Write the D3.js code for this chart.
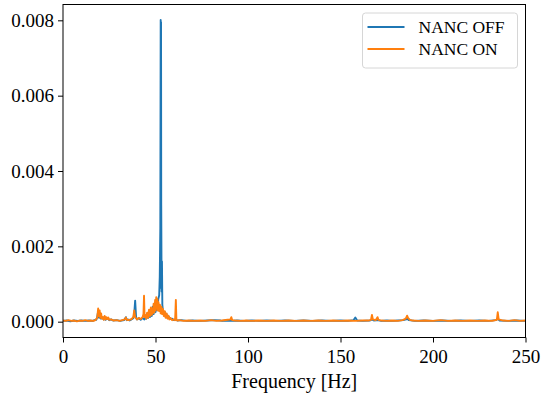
<!DOCTYPE html>
<html>
<head>
<meta charset="utf-8">
<script src="https://cdn.jsdelivr.net/npm/d3@7"></script>
<style>
  body { margin: 0; background: #fff; }
  svg text { font-family: 'Liberation Serif', 'DejaVu Serif', serif; fill: #000; }
</style>
</head>
<body>
<div id="chart"></div>
<script>
// spectrum (Hz / amplitude), rows of ten
const offFreq = [
  0, 2, 4, 6, 8, 10, 12, 14, 16, 17,
  18, 18.5, 19, 19.5, 20, 20.5, 21, 22, 22.5, 23,
  24, 25, 26, 27, 29, 31, 33, 34, 34.5, 35,
  36, 37, 38, 38.5, 39, 39.5, 40, 41, 42, 43,
  44, 44.5, 45, 45.5, 46, 46.5, 47, 47.5, 48, 48.5,
  49, 49.5, 50, 50.5, 51, 51.5, 52, 52.3, 52.6, 52.8,
  52.9, 53.0, 53.1, 53.3, 53.5, 53.7, 54, 54.5, 55, 55.5,
  56, 56.5, 57, 58, 59, 60, 61, 62, 64, 67,
  70, 74, 78, 82, 85, 86, 88, 91, 94, 98,
  102, 106, 110, 115, 120, 125, 130, 135, 140, 145,
  150, 154, 157, 158, 159, 162, 166, 167, 168, 170,
  172, 175, 178, 181, 184, 185.5, 186, 187, 190, 195,
  200, 205, 210, 215, 220, 225, 230, 234, 235, 236,
  240, 245, 250];
const offAmp = [
  0.00002, 0.00003, 0.00001, 0.00003, 0.00002, 0.00003, 0.00002, 0.00003, 0.00002, 0.00004,
  0.00005, 0.00012, 0.00028, 0.0001, 0.00022, 0.00008, 0.00012, 0.00006, 0.00013, 0.00005,
  0.0001, 0.00004, 0.00006, 0.00003, 0.00004, 0.00002, 0.00004, 0.00012, 0.00004, 0.00006,
  0.00003, 0.00006, 0.00009, 0.0002, 0.00056, 0.00012, 0.00006, 0.00009, 0.00005, 0.0001,
  0.00006, 0.00015, 0.00008, 0.00022, 0.0001, 0.00026, 0.00012, 0.00032, 0.00015, 0.0004,
  0.0002, 0.00048, 0.00025, 0.00055, 0.0003, 0.0006, 0.0007, 0.0012, 0.0025, 0.00801,
  0.0009, 0.00795, 0.0031, 0.0008, 0.0016, 0.00045, 0.0003, 0.00022, 0.00026, 0.00012,
  0.0002, 0.0001, 0.00014, 0.00007, 0.00008, 0.00004, 0.00005, 0.00003, 0.00004, 0.00002,
  0.00003, 0.00002, 0.00003, 0.00004, 0.00003, 0.00002, 0.00003, 0.00002, 0.00003, 0.00002,
  0.00003, 0.00002, 0.00003, 0.00002, 0.00003, 0.00002, 0.00003, 0.00002, 0.00003, 0.00002,
  0.00003, 0.00002, 0.00004, 0.00011, 0.00003, 0.00002, 0.00003, 0.00006, 0.00003, 0.00004,
  0.00002, 0.00003, 0.00002, 0.00003, 0.00004, 0.00006, 0.00008, 0.00004, 0.00002, 0.00003,
  0.00002, 0.00003, 0.00002, 0.00003, 0.00002, 0.00003, 0.00002, 0.00004, 0.00008, 0.00003,
  0.00002, 0.00003, 0.00002];

const onFreq = [
  0, 1.5, 3, 4.5, 6, 7.5, 9, 10.5, 12, 13.5,
  15, 16.5, 17.5, 18.5, 19, 19.4, 19.8, 20.2, 20.6, 21,
  21.5, 22, 22.5, 23, 23.5, 24, 24.5, 25, 26, 27.5,
  29, 30.5, 32, 33.5, 34, 34.5, 35.5, 37, 38, 38.5,
  39, 40, 41, 42, 43, 43.5, 43.8, 44.1, 44.5, 45,
  45.5, 46, 46.5, 47, 47.5, 48, 48.3, 48.6, 49, 49.4,
  49.8, 50.1, 50.4, 50.7, 51, 51.3, 51.6, 52, 52.4, 52.8,
  53.2, 53.6, 54, 54.5, 55, 55.5, 56, 56.5, 57, 57.5,
  58, 59, 60, 60.6, 61, 61.3, 62, 63, 65, 68,
  71, 74, 77, 80, 83, 86, 89, 90.5, 91, 91.5,
  93, 96, 99, 102, 106, 110, 114, 118, 122, 126,
  130, 134, 138, 142, 146, 150, 154, 158, 162, 165,
  166.5, 167, 167.5, 169, 170, 170.5, 172, 175, 178, 181,
  183.5, 184.5, 185.5, 186, 186.5, 187.5, 189, 192, 196, 200,
  204, 208, 212, 216, 220, 224, 228, 232, 234.5, 235,
  235.5, 238, 241, 244, 247, 250];
const onAmp = [
  0.00003, 0.00002, 0.00004, 0.00002, 0.00003, 0.00001, 0.00003, 0.00002, 0.00004, 0.00002,
  0.00003, 0.00002, 0.00004, 0.0001, 0.00035, 0.00015, 0.0003, 0.0001, 0.00022, 0.00008,
  0.00012, 0.00005, 0.00015, 0.00006, 0.00012, 0.00007, 0.00011, 0.00005, 0.00006, 0.00003,
  0.00004, 0.00002, 0.00004, 0.00006, 0.00011, 0.00005, 0.00004, 0.00007, 0.00012, 0.0003,
  0.00012, 0.00006, 0.0001, 0.00007, 0.00012, 0.0002, 0.00069, 0.00012, 0.00018, 0.00008,
  0.00024, 0.0001, 0.00032, 0.00015, 0.00038, 0.00018, 0.00035, 0.00022, 0.00048, 0.00025,
  0.00058, 0.0003, 0.00065, 0.00035, 0.0006, 0.0003, 0.00052, 0.00028, 0.00045, 0.00022,
  0.0004, 0.0002, 0.00034, 0.00015, 0.00028, 0.0001, 0.00022, 0.00008, 0.00016, 0.00006,
  0.0001, 0.00004, 0.00006, 0.00004, 0.00058, 0.00004, 0.00003, 0.00004, 0.00002, 0.00003,
  0.00002, 0.00003, 0.00002, 0.00004, 0.00002, 0.00003, 0.00005, 0.00006, 0.00012, 0.00004,
  0.00003, 0.00002, 0.00003, 0.00002, 0.00003, 0.00002, 0.00003, 0.00002, 0.00003, 0.00002,
  0.00003, 0.00002, 0.00003, 0.00002, 0.00003, 0.00002, 0.00003, 0.00002, 0.00003, 0.00003,
  0.00005, 0.00018, 0.00006, 0.00004, 0.00012, 0.00005, 0.00003, 0.00002, 0.00003, 0.00002,
  0.00004, 0.00006, 0.0001, 0.00016, 0.0001, 0.00005, 0.00003, 0.00002, 0.00003, 0.00002,
  0.00004, 0.00002, 0.00003, 0.00002, 0.00003, 0.00002, 0.00003, 0.00002, 0.00005, 0.00025,
  0.00006, 0.00003, 0.00002, 0.00004, 0.00002, 0.00003];

const seriesNames = ['NANC OFF', 'NANC ON'];
const xTicks = [0, 50, 100, 150, 200, 250];
const yTicks = [0, 0.002, 0.004, 0.006, 0.008];

const colors = ['#1f77b4', '#ff7f0e'];
const margin = {top: 4.5, right: 15.5, bottom: 56.5, left: 63},
  width = 541 - margin.left - margin.right,
  height = 394 - margin.top - margin.bottom;

const x = d3.scaleLinear().domain([0, 250]).range([0, width]);
const y = d3.scaleLinear().domain([-0.00042, 0.00842]).range([height, 0]);

const svg = d3.select('#chart').append('svg')
  .attr('width', 541)
  .attr('height', 394)
  .append('g')
  .attr('transform', `translate(${margin.left},${margin.top})`);

svg.append('defs').append('clipPath').attr('id', 'clip')
  .append('rect').attr('width', width).attr('height', height);

const line = d3.line()
  .x(d => x(d[0]))
  .y(d => y(d[1]));

const series = [
  offFreq.map((f, i) => [f, offAmp[i]]),
  onFreq.map((f, i) => [f, onAmp[i]])
];

series.forEach((s, i) => {
  svg.append('path')
    .datum(s)
    .attr('clip-path', 'url(#clip)')
    .attr('fill', 'none')
    .attr('stroke', colors[i])
    .attr('stroke-width', 1.9)
    .attr('stroke-linejoin', 'round')
    .attr('d', line);
});

// axes
const xAxis = d3.axisBottom(x).tickValues(xTicks).tickFormat(d3.format('d')).tickSizeOuter(0).tickSize(5).tickPadding(4);
const yAxis = d3.axisLeft(y).tickValues(yTicks).tickFormat(d3.format('.3f')).tickSizeOuter(0).tickSize(5).tickPadding(4);

const gx = svg.append('g')
  .attr('transform', `translate(0,${height})`)
  .call(xAxis);
const gy = svg.append('g').call(yAxis);

[gx, gy].forEach(g => {
  g.attr('font-family', null);
  g.select('.domain').remove();
  g.selectAll('line').attr('stroke', '#000').attr('stroke-width', 1);
  g.selectAll('text')
    .style('font-family', "'Liberation Serif', serif")
    .style('font-size', '19px')
    .attr('fill', '#000');
});
gx.selectAll('text').attr('dy', '0.85em');

// frame
svg.append('rect')
  .attr('width', width)
  .attr('height', height)
  .attr('fill', 'none')
  .attr('stroke', '#000')
  .attr('stroke-width', 1);

svg.append('text')
  .attr('x', width / 2)
  .attr('y', height + 50)
  .style('text-anchor', 'middle')
  .style('font-size', '20px')
  .text('Frequency [Hz]');

// legend
const legend = svg.append('g').attr('transform', `translate(${width - 163},8.5)`);
legend.append('rect')
  .attr('width', 155)
  .attr('height', 55)
  .attr('rx', 3)
  .attr('fill', '#fff')
  .attr('fill-opacity', 0.8)
  .attr('stroke', '#d6d6d6');

seriesNames.forEach((name, i) => {
  legend.append('line')
    .attr('x1', 5).attr('x2', 42)
    .attr('y1', 14 + i * 22).attr('y2', 14 + i * 22)
    .attr('stroke', colors[i])
    .attr('stroke-width', 1.9);
  legend.append('text')
    .attr('x', 56)
    .attr('y', 14 + i * 22)
    .attr('dy', '0.35em')
    .style('font-size', '17.5px')
    .text(name);
});
</script>
</body>
</html>
